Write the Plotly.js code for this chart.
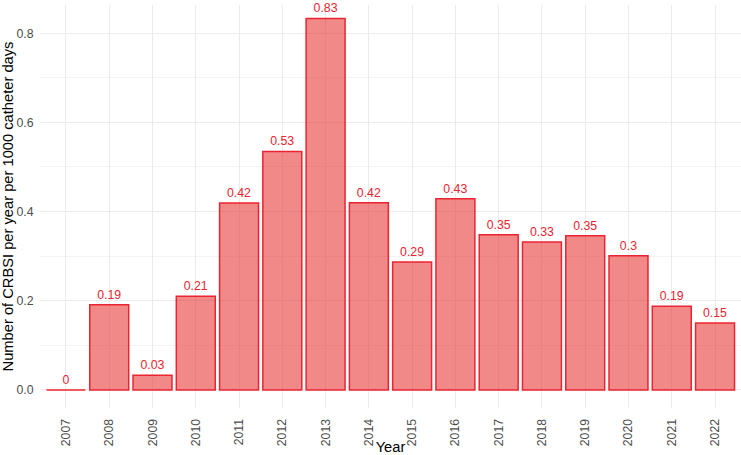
<!DOCTYPE html>
<html>
<head>
<meta charset="utf-8">
<script src="https://cdn.plot.ly/plotly-3.0.1.min.js"></script>
<style>
  html, body { margin: 0; padding: 0; background: #fff; }
  #plotDiv { width: 741px; height: 455px; }
</style>
</head>
<body>
<div id="plotDiv"></div>
<script>
"use strict";

// Data
const years = ['2007', '2008', '2009', '2010', '2011', '2012', '2013', '2014',
               '2015', '2016', '2017', '2018', '2019', '2020', '2021', '2022'];
const rates = [0, 0.191, 0.033, 0.21, 0.419, 0.535, 0.833, 0.42,
               0.287, 0.429, 0.348, 0.332, 0.346, 0.301, 0.188, 0.15];
const rateLabels = ['0', '0.19', '0.03', '0.21', '0.42', '0.53', '0.83', '0.42',
                    '0.29', '0.43', '0.35', '0.33', '0.35', '0.3', '0.19', '0.15'];
const yTicks = [0, 0.2, 0.4, 0.6, 0.8];

const FONT = 'Liberation Sans, Arial, sans-serif';

const barTrace = {
    x: years,
    y: rates,
    type: 'bar',
    width: 0.9,
    marker: {
        color: 'rgba(230, 40, 40, 0.55)',
        line: { color: '#ea2430', width: 1.5 }
    },
    text: rateLabels,
    textposition: 'outside',
    textfont: { family: FONT, size: 12.3, color: '#ea2430' },
    constraintext: 'none',
    cliponaxis: false,
    hoverinfo: 'x+y'
};

const layout = {
    width: 741,
    height: 455,
    margin: { l: 40, r: 0, t: 5, b: 47 },
    paper_bgcolor: '#fff',
    plot_bgcolor: '#fff',
    font: { family: FONT },
    showlegend: false,
    bargap: 0.1,
    xaxis: {
        type: 'category',
        range: [-0.6, 15.6],
        tickangle: -90,
        tickfont: { family: FONT, size: 12.3, color: '#4d4d4d' },
        showgrid: true,
        gridcolor: '#ebebeb',
        gridwidth: 1,
        ticks: 'outside',
        ticklen: 5,
        tickcolor: 'rgba(0,0,0,0)',
        zeroline: false,
        showline: false,
        title: { text: 'Year', font: { family: FONT, size: 14.7, color: '#000' }, standoff: 0 }
    },
    yaxis: {
        range: [-0.0404, 0.8632],
        tickvals: yTicks,
        tickformat: '.1f',
        tickfont: { family: FONT, size: 12.3, color: '#4d4d4d' },
        showgrid: true,
        gridcolor: '#ebebeb',
        gridwidth: 1.1,
        minor: { dtick: 0.1, tick0: 0.1, showgrid: true, gridcolor: '#f3f3f3', gridwidth: 0.6 },
        ticks: 'outside',
        ticklen: 3,
        tickcolor: 'rgba(0,0,0,0)',
        zeroline: false,
        showline: false,
        title: {
            text: 'Number of CRBSI per year per 1000 catheter days',
            font: { family: FONT, size: 14.7, color: '#000' },
            standoff: 4
        }
    }
};

Plotly.newPlot('plotDiv', [barTrace], layout, { displayModeBar: false, responsive: false });
</script>
</body>
</html>
